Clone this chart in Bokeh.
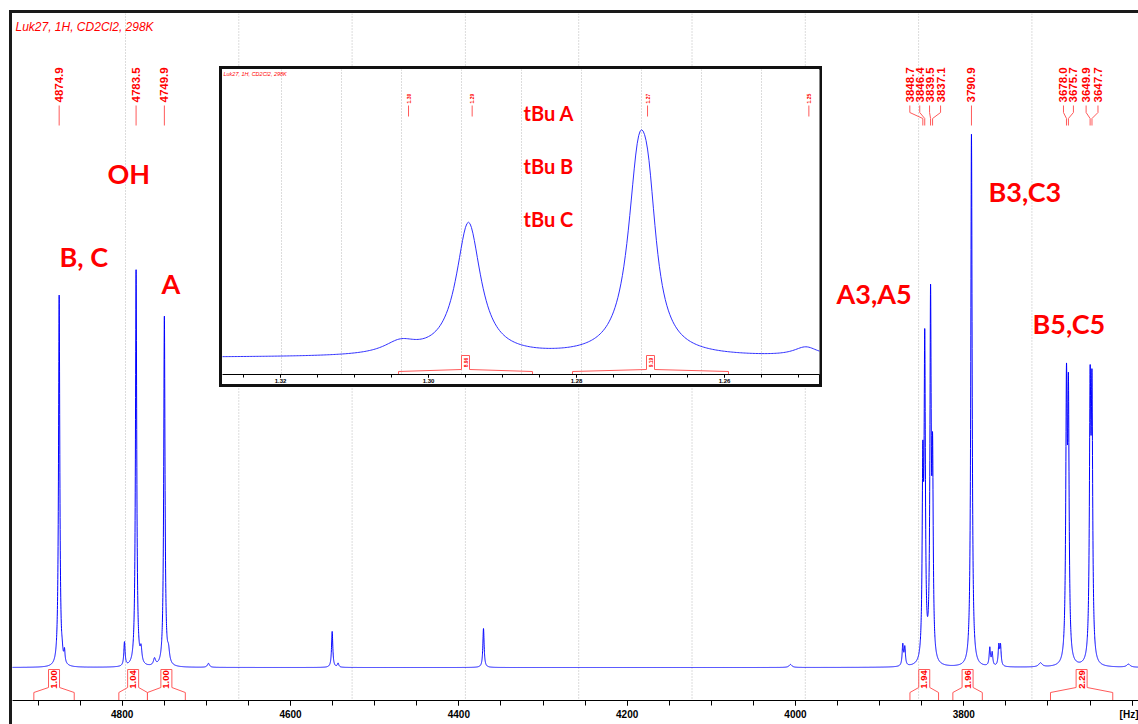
import numpy as np
from bokeh.plotting import figure
from bokeh.models import Range1d, Span, SingleIntervalTicker, NumeralTickFormatter, Label
from bokeh.core.properties import value
from bokeh.embed import file_html
from bokeh.resources import INLINE

# ---------------- data ----------------
title_text = "Luk27,  1H, CD2Cl2, 298K"

# labelled peaks of the main 1H spectrum (Hz), heights above baseline, half widths (Hz)
peak_hz = [4874.9, 4783.5, 4749.9, 3848.7, 3846.4, 3839.5, 3837.1, 3790.9, 3678.0, 3675.7, 3649.9, 3647.7]
peak_amp = [372, 397, 350, 181, 307, 353, 187, 533, 263, 252, 258, 253]
peak_hw = [0.9, 0.9, 0.9, 0.9, 0.9, 0.9, 0.9, 0.95, 1.0, 1.0, 1.0, 1.0]

# small unlabelled signals
minor_hz = [4871.3, 4868.6, 4797.3, 4777.6, 4761.6, 4745.0, 4697.5, 4550.5, 4543.5, 4370.7,
            4005.9, 3872.5, 3870.1, 3769.1, 3766.3, 3758.4, 3756.4, 3708.9, 3604.4]
minor_amp = [6, 12, 24, 14, 7, 12, 4, 36, 4, 39, 3, 21, 18, 18, 13, 20, 20, 4, 3]
minor_hw = [0.8, 0.8, 0.9, 1.2, 1.5, 1.5, 1.5, 0.9, 1.0, 0.9, 2.0, 0.9, 0.9, 0.9, 0.9, 0.9, 0.9, 2.5, 2.5]

# integrals of the main spectrum (Hz ranges) and their values
integral_start = [4905, 4804, 4770, 3864, 3813, 3697]
integral_end = [4857, 4770, 4725, 3830, 3778, 3623]
integral_val = ["1.00", "1.04", "1.00", "1.94", "1.96", "2.29"]

# assignment labels
assign_text = ["B, C", "OH", "A", "A3,A5", "B3,C3", "B5,C5"]

# inset: tBu region (ppm)
inset_ppm = [1.3038, 1.2946, 1.27162, 1.27027, 1.2490]
inset_amp = [12, 133, 175, 90, 9]
inset_hw = [0.0027, 0.0020, 0.00176, 0.00135, 0.0020]
inset_label_ppm = [1.3027, 1.2941, 1.2704, 1.2486]
inset_int_start = [1.30405, 1.28054]
inset_int_end = [1.28595, 1.25946]
inset_int_val = ["8.96", "9.19"]
inset_text = ["tBu A", "tBu B", "tBu C"]

# ---------------- style / layout ----------------
RED = "#ff0000"
LRED = "#ff5a5a"
BLUE = "#0000ff"
FRAME = "#1a1a1a"
PX0, HZ0, PXHZ = 121.7, 4800.0, 0.8416   # page px of 4800 Hz, px per Hz
BASE = 667.0                              # page y of the main baseline


def hz_at(px):
    return HZ0 - (px - PX0) / PXHZ


def px_of(hz):
    return PX0 + (HZ0 - hz) * PXHZ


def yv(py):
    return BASE - py


def bar(c):
    return f"linear-gradient({c}, {c})"


W, H = 1138, 724
border_css = {
    "background-image": f"{bar(FRAME)}, {bar(FRAME)}",
    "background-size": "3px 714px, 1129px 3px",
    "background-position": "9px 10px, 9px 10px",
    "background-repeat": "no-repeat",
}
p = figure(width=W, height=H, output_backend="svg", toolbar_location=None,
           x_range=Range1d(hz_at(12), hz_at(1138)), y_range=Range1d(yv(700), yv(13)),
           min_border_left=12, min_border_right=0, min_border_top=13, min_border_bottom=24,
           y_axis_location=None, styles=border_css)
p.grid.visible = False
p.outline_line_color = None
p.background_fill_color = "white"
p.border_fill_color = None

ax = p.xaxis[0]
ax.ticker = SingleIntervalTicker(interval=200, num_minor_ticks=4)
ax.major_label_overrides = {3600: "[Hz]"}
ax.axis_line_color = "black"
ax.axis_line_width = 1
ax.major_tick_line_color = "black"
ax.minor_tick_line_color = "black"
ax.major_tick_out = 5
ax.major_tick_in = 0
ax.minor_tick_out = 5
ax.minor_tick_in = 0
ax.major_label_standoff = 3
ax.major_label_text_font = "Liberation Sans"
ax.major_label_text_font_style = "bold"
ax.major_label_text_font_size = "10px"
ax.major_label_text_color = "black"

# dotted grid
for k in range(9):
    p.add_layout(Span(location=hz_at(125 + 113.3 * k), dimension="height", line_color="#b8b8b8",
                      line_width=1, line_dash="1 2", level="underlay"))

# spectrum
all_hz = peak_hz + minor_hz
all_amp = peak_amp + minor_amp
all_hw = peak_hw + minor_hw
hz = np.arange(3585.0, 4935.0, 0.08)
spec = np.zeros_like(hz)
for c, a, w in zip(all_hz, all_amp, all_hw):
    spec += a / (1.0 + ((hz - c) / w) ** 2)
p.line(hz, spec, line_color=BLUE, line_width=1)

# title
p.text(x=[hz_at(15)], y=[yv(26)], text=[title_text], text_font=value("Liberation Sans"),
       text_font_style="italic", text_font_size="12px", text_color=RED,
       text_align="left", text_baseline="middle")

# peak labels
shift_px = {3848.7: -13, 3846.4: -5, 3839.5: -1, 3837.1: 8,
            3678.0: -3, 3675.7: 5, 3649.9: -4, 3647.7: 6}
lab_x, lab_t, cx, cy = [], [], [], []
for h in peak_hz:
    s = shift_px.get(h, 0)
    lx = hz_at(px_of(h) + s)
    lab_x.append(lx)
    lab_t.append(f"{h:.1f}")
    if s == 0:
        cx.append([h, h])
        cy.append([yv(105), yv(125)])
    else:
        cx.append([lx, lx, h, h])
        cy.append([yv(105), yv(112), yv(118), yv(125)])
p.multi_line(cx, cy, line_color=LRED, line_width=1)
p.text(x=lab_x, y=[yv(102)] * len(lab_x), text=lab_t, angle=np.pi / 2,
       text_font=value("Liberation Sans"), text_font_style="bold", text_font_size="11.5px",
       text_color=RED, text_align="left", text_baseline="middle")

# integrals
ix, iy_, icx = [], [], []
dhz = 5.5 / PXHZ
for a0, a1 in zip(integral_start, integral_end):
    c = 0.5 * (a0 + a1)
    icx.append(c)
    ix.append([a0, a0, c + dhz, c + dhz, c - dhz, c - dhz, a1, a1])
    iy_.append([yv(700), yv(692), yv(687), yv(669), yv(669), yv(687), yv(692), yv(700)])
p.multi_line(ix, iy_, line_color=LRED, line_width=1)
p.text(x=icx, y=[yv(679)] * len(icx), text=integral_val, angle=np.pi / 2,
       text_font=value("Liberation Sans"), text_font_style="bold", text_font_size="9.5px",
       text_color=RED, text_align="center", text_baseline="middle")

# assignment labels
assign_pos = [(59, 256), (107, 173), (161, 283), (836, 293), (988, 191), (1032, 323)]
p.text(x=[hz_at(a) for a, b in assign_pos], y=[yv(b) for a, b in assign_pos], text=assign_text,
       text_font=value("Lato"), text_font_style="bold", text_font_size="27px", text_color=RED,
       text_align="left", text_baseline="alphabetic")

# ---------------- inset ----------------
IPX0, IPPM0, IPXPPM = 428.0, 1.30, 7400.0
IBASE = 357.0


def ppm_at(px):
    return IPPM0 - (px - IPX0) / IPXPPM


def iy(py):
    return IBASE - py


inset_css = {
    "position": "absolute", "left": "219px", "top": "66px",
    "background-color": "white",
    "background-image": f"{bar('#111111')}, {bar('#111111')}, {bar('#111111')}, {bar('#111111')}",
    "background-size": "100% 3px, 100% 3px, 3px 100%, 3px 100%",
    "background-position": "0 0, 0 100%, 0 0, 100% 0",
    "background-repeat": "no-repeat",
}
inset = figure(width=603, height=321, output_backend="svg", toolbar_location=None,
               x_range=Range1d(ppm_at(222), ppm_at(819)), y_range=Range1d(iy(374), iy(69)),
               min_border_left=3, min_border_right=3, min_border_top=3, min_border_bottom=13,
               y_axis_location=None, styles=inset_css)
inset.grid.visible = False
inset.outline_line_color = None
inset.background_fill_color = "white"
inset.border_fill_color = None
iax = inset.xaxis[0]
iax.ticker = SingleIntervalTicker(interval=0.02, num_minor_ticks=4)
iax.formatter = NumeralTickFormatter(format="0.00")
iax.axis_line_color = "black"
iax.major_tick_line_color = "black"
iax.minor_tick_line_color = "black"
iax.major_tick_out = 3
iax.major_tick_in = 0
iax.minor_tick_out = 3
iax.minor_tick_in = 0
iax.major_label_standoff = 1
iax.major_label_text_font = "Liberation Sans"
iax.major_label_text_font_style = "bold"
iax.major_label_text_font_size = "6px"
iax.major_label_text_color = "black"

for k in range(9):
    inset.add_layout(Span(location=ppm_at(281 + 60 * k), dimension="height", line_color="#b8b8b8",
                          line_width=1, line_dash="1 2", level="underlay"))

ppm = np.arange(1.2460, 1.3290, 0.0002)
ispec = np.zeros_like(ppm)
for c, a, w in zip(inset_ppm, inset_amp, inset_hw):
    ispec += a / (1.0 + ((ppm - c) / w) ** 2)
inset.line(ppm, ispec, line_color="#3030ff", line_width=1)

inset.text(x=[ppm_at(223)], y=[iy(73)], text=[title_text], text_font=value("Liberation Sans"),
           text_font_style="italic", text_font_size="5.5px", text_color=RED,
           text_align="left", text_baseline="middle")

inset.multi_line([[v, v] for v in inset_label_ppm], [[iy(105), iy(116)]] * len(inset_label_ppm),
                 line_color=LRED, line_width=1)
inset.text(x=inset_label_ppm, y=[iy(103)] * len(inset_label_ppm), text=[f"{v:.2f}" for v in inset_label_ppm],
           angle=np.pi / 2, text_font=value("Liberation Sans"), text_font_style="bold", text_font_size="5px",
           text_color=RED, text_align="left", text_baseline="middle")

jx, jy, jc = [], [], []
dppm = 4.0 / IPXPPM
for a0, a1 in zip(inset_int_start, inset_int_end):
    c = 0.5 * (a0 + a1)
    jc.append(c)
    jx.append([a0, a0, c + dppm, c + dppm, c - dppm, c - dppm, a1, a1])
    jy.append([iy(374), iy(371), iy(369), iy(355), iy(355), iy(369), iy(371), iy(374)])
inset.multi_line(jx, jy, line_color=LRED, line_width=1)
inset.text(x=jc, y=[iy(362)] * len(jc), text=inset_int_val, angle=np.pi / 2,
           text_font=value("Liberation Sans"), text_font_style="bold", text_font_size="5px",
           text_color=RED, text_align="center", text_baseline="middle")

inset.text(x=[ppm_at(523)] * 3, y=[iy(112), iy(165), iy(218)], text=inset_text,
           text_font=value("Lato"), text_font_style="bold", text_font_size="20px", text_color=RED,
           text_align="left", text_baseline="alphabetic")

inset.add_layout(Label(x=ppm_at(818), y=iy(381), text="[ppm]", text_font="Liberation Sans",
                       text_font_style="bold", text_font_size="6px", text_color="black",
                       text_align="right", text_baseline="middle"))

open("out.html", "w").write(file_html([p, inset], INLINE))
